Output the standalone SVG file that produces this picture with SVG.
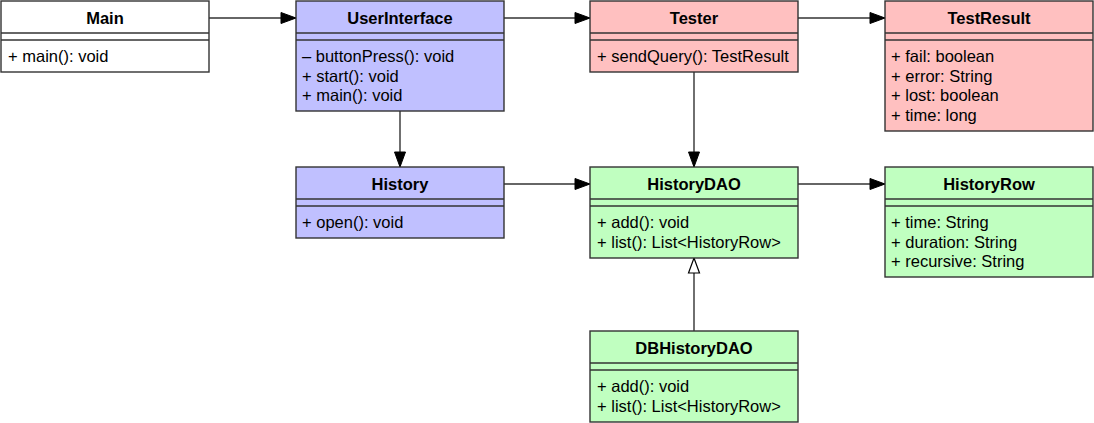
<svg xmlns="http://www.w3.org/2000/svg" width="1094" height="423" viewBox="0 0 1094 423">
<style>
  .box { stroke: #333333; stroke-width: 1.4; }
  .sep { stroke: #333333; stroke-width: 1.4; fill: none; }
  .white { fill: #ffffff; }
  .blue { fill: #c0c0ff; }
  .red { fill: #ffc0c0; }
  .green { fill: #c0ffc0; }
  .title { font-family: "Liberation Sans", Arial, Helvetica, sans-serif; font-size: 16.5px; font-weight: bold; text-anchor: middle; fill: #000000; }
  .row { font-family: "Liberation Sans", Arial, Helvetica, sans-serif; font-size: 16.5px; fill: #000000; }
  .conn { stroke: #333333; stroke-width: 1.4; fill: none; }
</style>
<defs>
  <marker id="arrow" markerUnits="userSpaceOnUse" markerWidth="18" markerHeight="13" refX="16" refY="6.5" orient="auto">
    <path d="M1,1 L16,6.5 L1,12 Z" fill="#000000" stroke="#000000" stroke-width="1"/>
  </marker>
  <marker id="inherit" markerUnits="userSpaceOnUse" markerWidth="18" markerHeight="14" refX="16" refY="7" orient="auto">
    <path d="M1,1.5 L16,7 L1,12.5 Z" fill="#ffffff" stroke="#000000" stroke-width="1.2"/>
  </marker>
</defs>

<g id="connectors">
  <line class="conn" x1="209" y1="18" x2="296" y2="18" marker-end="url(#arrow)"/>
  <line class="conn" x1="504" y1="18" x2="590" y2="18" marker-end="url(#arrow)"/>
  <line class="conn" x1="798" y1="18" x2="885" y2="18" marker-end="url(#arrow)"/>
  <line class="conn" x1="400" y1="111" x2="400" y2="167" marker-end="url(#arrow)"/>
  <line class="conn" x1="694" y1="72" x2="694" y2="167" marker-end="url(#arrow)"/>
  <line class="conn" x1="504" y1="184" x2="590" y2="184" marker-end="url(#arrow)"/>
  <line class="conn" x1="798" y1="184" x2="885" y2="184" marker-end="url(#arrow)"/>
  <line class="conn" x1="694" y1="331" x2="694" y2="258" marker-end="url(#inherit)"/>
</g>

<g id="Main">
  <rect class="box white" x="1" y="1" width="208" height="71"/>
  <line class="sep" x1="1" y1="33" x2="209" y2="33"/>
  <line class="sep" x1="1" y1="40" x2="209" y2="40"/>
  <text class="title" x="105" y="24">Main</text>
  <text class="row" x="8" y="62">+ main(): void</text>
</g>

<g id="UserInterface">
  <rect class="box blue" x="296" y="1" width="208" height="110"/>
  <line class="sep" x1="296" y1="33" x2="504" y2="33"/>
  <line class="sep" x1="296" y1="40" x2="504" y2="40"/>
  <text class="title" x="400" y="24">UserInterface</text>
  <text class="row" x="302" y="62">– buttonPress(): void</text>
  <text class="row" x="302" y="81.5">+ start(): void</text>
  <text class="row" x="302" y="101">+ main(): void</text>
</g>

<g id="Tester">
  <rect class="box red" x="590" y="1" width="208" height="71"/>
  <line class="sep" x1="590" y1="33" x2="798" y2="33"/>
  <line class="sep" x1="590" y1="40" x2="798" y2="40"/>
  <text class="title" x="694" y="24">Tester</text>
  <text class="row" x="597" y="62">+ sendQuery(): TestResult</text>
</g>

<g id="TestResult">
  <rect class="box red" x="885" y="1" width="208" height="130"/>
  <line class="sep" x1="885" y1="33" x2="1093" y2="33"/>
  <line class="sep" x1="885" y1="40" x2="1093" y2="40"/>
  <text class="title" x="989" y="24">TestResult</text>
  <text class="row" x="891" y="62">+ fail: boolean</text>
  <text class="row" x="891" y="81.5">+ error: String</text>
  <text class="row" x="891" y="101">+ lost: boolean</text>
  <text class="row" x="891" y="120.5">+ time: long</text>
</g>

<g id="History">
  <rect class="box blue" x="296" y="167" width="208" height="71"/>
  <line class="sep" x1="296" y1="199" x2="504" y2="199"/>
  <line class="sep" x1="296" y1="206" x2="504" y2="206"/>
  <text class="title" x="400" y="190">History</text>
  <text class="row" x="302" y="228">+ open(): void</text>
</g>

<g id="HistoryDAO">
  <rect class="box green" x="590" y="167" width="208" height="91"/>
  <line class="sep" x1="590" y1="199" x2="798" y2="199"/>
  <line class="sep" x1="590" y1="206" x2="798" y2="206"/>
  <text class="title" x="694" y="190">HistoryDAO</text>
  <text class="row" x="597" y="228">+ add(): void</text>
  <text class="row" x="597" y="247.5">+ list(): List&lt;HistoryRow&gt;</text>
</g>

<g id="HistoryRow">
  <rect class="box green" x="885" y="167" width="208" height="110"/>
  <line class="sep" x1="885" y1="199" x2="1093" y2="199"/>
  <line class="sep" x1="885" y1="206" x2="1093" y2="206"/>
  <text class="title" x="989" y="190">HistoryRow</text>
  <text class="row" x="891" y="228">+ time: String</text>
  <text class="row" x="891" y="247.5">+ duration: String</text>
  <text class="row" x="891" y="267">+ recursive: String</text>
</g>

<g id="DBHistoryDAO">
  <rect class="box green" x="590" y="331" width="208" height="91"/>
  <line class="sep" x1="590" y1="363" x2="798" y2="363"/>
  <line class="sep" x1="590" y1="370" x2="798" y2="370"/>
  <text class="title" x="694" y="354">DBHistoryDAO</text>
  <text class="row" x="597" y="392">+ add(): void</text>
  <text class="row" x="597" y="411.5">+ list(): List&lt;HistoryRow&gt;</text>
</g>
</svg>
